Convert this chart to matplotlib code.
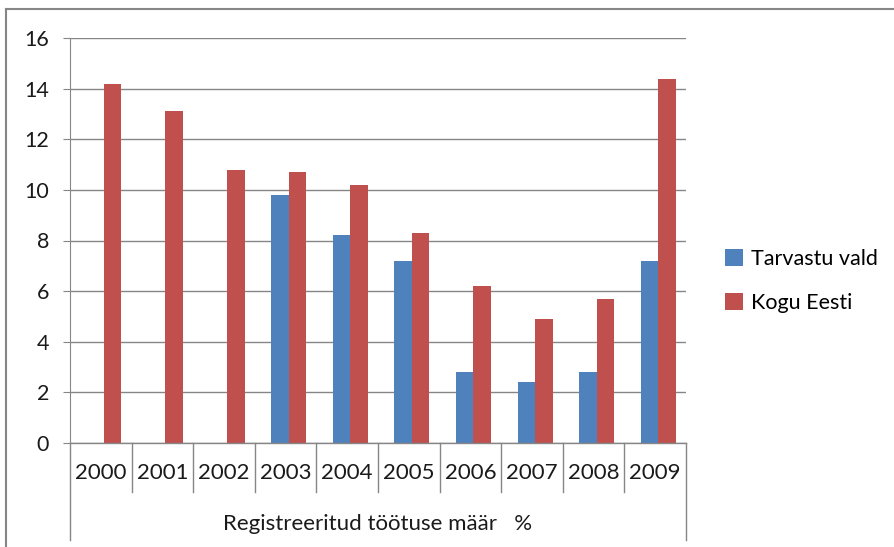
import matplotlib
matplotlib.use("Agg")
from matplotlib import pyplot as plt
from matplotlib.lines import Line2D
import numpy as np

# Andmed
aastad = ['2000', '2001', '2002', '2003', '2004', '2005', '2006', '2007', '2008', '2009']
tarvastu = [np.nan, np.nan, np.nan, 9.8, 8.2, 7.2, 2.8, 2.4, 2.8, 7.2]
kogu_eesti = [14.2, 13.1, 10.8, 10.7, 10.2, 8.3, 6.2, 4.9, 5.7, 14.4]
pealkiri = 'Registreeritud töötuse määr   %'

plt.rcParams['font.family'] = ['Lato', 'DejaVu Sans']

sinine = '#4F81BD'
punane = '#C0504D'
hall = '#868686'

fig = plt.figure(figsize=(8.95, 5.47), dpi=100)
ax = fig.add_axes([70 / 895, 1 - 443 / 547, 616 / 895, 405 / 547])

x = np.arange(len(aastad))
laius = 0.285
ax.bar(x - laius / 2 + 0.05, tarvastu, laius, color=sinine, label='Tarvastu vald')
ax.bar(x + laius / 2 + 0.05, kogu_eesti, laius, color=punane, label='Kogu Eesti')

ax.set_xlim(-0.5, len(aastad) - 0.5)
ax.set_ylim(0, 16)
ax.set_yticks(range(0, 17, 2))
ax.yaxis.grid(True, color=hall, linewidth=1)
ax.set_axisbelow(True)

for s in ['top', 'right', 'bottom']:
    ax.spines[s].set_visible(False)
ax.spines['left'].set_color(hall)
ax.spines['left'].set_bounds(0, 16)

ax.tick_params(axis='y', length=5, color=hall, pad=10, labelsize=15.5, labelcolor='#1a1a1a')
ax.set_xticks(x)
ax.set_xticklabels(aastad)
ax.tick_params(axis='x', length=0, pad=14.5, labelsize=16, labelcolor='#1a1a1a')

# kategooriate tabel
alumine = -49 / 405
pohi = -97 / 405
ax.add_line(Line2D([0, 1], [0, 0], transform=ax.transAxes, color=hall, lw=1, clip_on=False))
for i in range(1, len(aastad)):
    ax.add_line(Line2D([i / 10, i / 10], [0, alumine], transform=ax.transAxes,
                       color=hall, lw=1, clip_on=False))
for xx in [0, 1]:
    ax.add_line(Line2D([xx, xx], [0, pohi], transform=ax.transAxes,
                       color=hall, lw=1, clip_on=False))
ax.text(0.5, -81 / 405, pealkiri, transform=ax.transAxes, ha='center', va='center',
        fontsize=16, color='#1a1a1a')

# legend
fig.legend(loc='center left', bbox_to_anchor=(706 / 895, 1 - 281 / 547), frameon=False,
           fontsize=15.5, handlelength=0.8, handleheight=0.8, handletextpad=0.4,
           labelspacing=1.1)

# raam
fig.add_artist(Line2D([6 / 895, 6 / 895], [0, 1 - 9 / 547], transform=fig.transFigure,
                      color=hall, lw=1.5))
fig.add_artist(Line2D([6 / 895, 1], [1 - 9 / 547, 1 - 9 / 547], transform=fig.transFigure,
                      color=hall, lw=1.5))

fig.savefig('out.png', dpi=100)
